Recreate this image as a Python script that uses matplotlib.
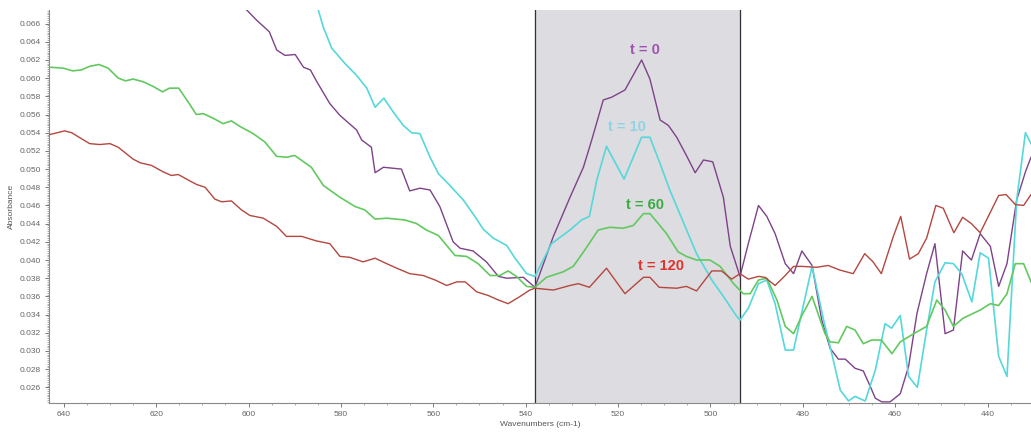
import matplotlib
matplotlib.use("Agg")
import matplotlib.pyplot as plt
import numpy as np
from matplotlib.ticker import MultipleLocator, FormatStrFormatter

plt.rcParams['font.family'] = ['Liberation Sans', 'DejaVu Sans']

# (wavenumber, absorbance)
t0_pts = [(600.4, 0.0675), (598.3, 0.0664), (595.5, 0.0651), (593.9, 0.0631), (592.1, 0.0625),
          (589.9, 0.0626), (588.1, 0.0612), (586.6, 0.0609), (585.2, 0.0596), (582.4, 0.0572),
          (580.2, 0.0559), (576.6, 0.0543), (575.5, 0.0532), (573.4, 0.0524), (572.6, 0.0496),
          (570.8, 0.0502), (566.9, 0.0500), (565.1, 0.0476), (562.9, 0.0479), (560.7, 0.0477),
          (558.6, 0.0459), (555.7, 0.0420), (554.2, 0.0413), (551.4, 0.0410), (548.5, 0.0398),
          (545.9, 0.0382), (544.1, 0.0380), (540.5, 0.0381), (538.0, 0.0370), (534.0, 0.0426),
          (530.4, 0.0469), (527.5, 0.0502), (525.7, 0.0532), (523.2, 0.0576), (521.4, 0.0579),
          (518.5, 0.0587), (514.9, 0.0620), (513.1, 0.0599), (510.9, 0.0554), (509.1, 0.0548),
          (507.3, 0.0535), (505.2, 0.0515), (503.3, 0.0496), (501.5, 0.0510), (499.5, 0.0508),
          (497.2, 0.0469), (495.7, 0.0415), (493.6, 0.0382), (491.8, 0.0418), (489.6, 0.0460),
          (487.8, 0.0448), (486.0, 0.0429), (483.8, 0.0396), (482.0, 0.0385), (480.2, 0.0410),
          (478.0, 0.0394), (475.9, 0.0334), (474.1, 0.0303), (472.3, 0.0291), (470.8, 0.0291),
          (468.7, 0.0281), (466.9, 0.0278), (465.4, 0.0261), (464.3, 0.0248), (462.9, 0.0244),
          (461.1, 0.0244), (458.9, 0.0253), (457.1, 0.0283), (455.3, 0.0341), (453.2, 0.0385),
          (451.4, 0.0418), (449.2, 0.0319), (447.4, 0.0323), (445.4, 0.0410), (443.5, 0.0400),
          (441.6, 0.0429), (439.4, 0.0415), (437.6, 0.0371), (435.8, 0.0396), (433.7, 0.0466),
          (431.8, 0.0497), (430.6, 0.0513)]

t10_pts = [(584.9, 0.0675), (583.8, 0.0656), (582.0, 0.0633), (579.1, 0.0616), (576.6, 0.0603),
           (574.4, 0.0589), (572.6, 0.0568), (570.7, 0.0578), (568.7, 0.0563), (566.5, 0.0548),
           (564.7, 0.0540), (562.9, 0.0539), (560.7, 0.0513), (558.9, 0.0495), (556.4, 0.0482),
           (553.5, 0.0466), (551.0, 0.0448), (549.2, 0.0434), (547.0, 0.0424), (544.1, 0.0416),
           (542.3, 0.0402), (539.8, 0.0385), (538.0, 0.0382), (534.4, 0.0418), (530.4, 0.0433),
           (527.9, 0.0444), (526.2, 0.0448), (524.6, 0.0488), (522.5, 0.0525), (518.7, 0.0489),
           (514.9, 0.0535), (513.1, 0.0535), (510.9, 0.0506), (508.8, 0.0477), (505.9, 0.0442),
           (503.0, 0.0407), (499.7, 0.0378), (497.2, 0.0360), (494.3, 0.0338), (493.6, 0.0334),
           (491.8, 0.0347), (489.6, 0.0374), (487.8, 0.0378), (486.0, 0.0352), (483.8, 0.0301),
           (482.0, 0.0301), (480.2, 0.0343), (478.0, 0.0393), (475.5, 0.0334), (473.4, 0.0290),
           (471.9, 0.0257), (470.1, 0.0245), (468.7, 0.0250), (466.5, 0.0245), (464.3, 0.0279),
           (462.2, 0.0330), (460.8, 0.0325), (458.9, 0.0339), (457.1, 0.0272), (455.2, 0.0260),
           (453.2, 0.0323), (451.4, 0.0376), (449.2, 0.0397), (447.4, 0.0396), (445.6, 0.0385),
           (443.4, 0.0354), (441.6, 0.0408), (439.8, 0.0402), (437.6, 0.0294), (435.8, 0.0272),
           (433.7, 0.0466), (431.8, 0.0540), (430.6, 0.0528)]

t60_pts = [(643.0, 0.0612), (640.1, 0.0611), (638.1, 0.0608), (636.2, 0.0609), (634.4, 0.0613),
           (632.4, 0.0615), (630.4, 0.0611), (628.2, 0.0600), (626.6, 0.0597), (625.0, 0.0599),
           (622.8, 0.0596), (620.7, 0.0591), (618.6, 0.0585), (617.1, 0.0589), (615.1, 0.0589),
           (613.1, 0.0574), (611.3, 0.0560), (609.8, 0.0561), (607.7, 0.0556), (605.5, 0.0550),
           (603.7, 0.0553), (601.9, 0.0547), (599.0, 0.0539), (596.5, 0.0530), (593.9, 0.0514),
           (591.8, 0.0513), (590.0, 0.0515), (586.4, 0.0502), (583.8, 0.0482), (580.2, 0.0469),
           (577.0, 0.0459), (574.8, 0.0455), (572.6, 0.0445), (570.1, 0.0446), (566.1, 0.0444),
           (563.6, 0.0440), (561.5, 0.0433), (558.9, 0.0427), (557.1, 0.0416), (555.3, 0.0405),
           (552.8, 0.0404), (550.3, 0.0396), (547.7, 0.0383), (545.6, 0.0383), (543.8, 0.0388),
           (542.0, 0.0382), (539.8, 0.0371), (538.0, 0.0370), (535.5, 0.0381), (531.9, 0.0387),
           (529.7, 0.0393), (527.2, 0.0411), (524.3, 0.0433), (521.8, 0.0436), (518.9, 0.0435),
           (516.7, 0.0438), (514.5, 0.0451), (513.1, 0.0451), (511.6, 0.0442), (509.5, 0.0429),
           (507.0, 0.0409), (505.2, 0.0404), (503.0, 0.0400), (500.1, 0.0400), (497.9, 0.0393),
           (495.0, 0.0374), (492.9, 0.0363), (491.4, 0.0363), (489.6, 0.0378), (487.8, 0.0380),
           (485.6, 0.0356), (483.8, 0.0327), (482.0, 0.0319), (480.2, 0.0339), (478.0, 0.0360),
           (475.2, 0.0319), (474.1, 0.0310), (472.3, 0.0309), (470.5, 0.0327), (468.7, 0.0323),
           (466.9, 0.0308), (465.1, 0.0312), (463.0, 0.0312), (460.7, 0.0297), (458.9, 0.0310),
           (456.0, 0.0319), (453.2, 0.0327), (451.0, 0.0356), (449.2, 0.0345), (447.4, 0.0327),
           (445.3, 0.0336), (441.6, 0.0345), (439.4, 0.0352), (437.6, 0.0350), (435.8, 0.0363),
           (434.0, 0.0396), (432.2, 0.0396), (430.6, 0.0376)]

t120_pts = [(643.0, 0.0538), (639.8, 0.0542), (638.3, 0.0540), (634.4, 0.0528), (632.2, 0.0527),
            (630.0, 0.0528), (628.2, 0.0524), (625.0, 0.0511), (623.5, 0.0507), (621.0, 0.0504),
            (618.5, 0.0497), (616.7, 0.0493), (615.2, 0.0494), (612.7, 0.0487), (611.2, 0.0483),
            (609.4, 0.0480), (607.3, 0.0467), (605.8, 0.0464), (603.7, 0.0465), (601.5, 0.0455),
            (599.7, 0.0449), (596.8, 0.0446), (593.9, 0.0437), (591.8, 0.0426), (588.5, 0.0426),
            (585.3, 0.0421), (582.4, 0.0418), (580.2, 0.0404), (578.1, 0.0403), (575.2, 0.0398),
            (572.6, 0.0402), (570.1, 0.0396), (567.9, 0.0391), (565.1, 0.0385), (562.2, 0.0383),
            (559.6, 0.0378), (557.1, 0.0372), (554.9, 0.0376), (553.1, 0.0376), (550.6, 0.0365),
            (548.1, 0.0361), (545.9, 0.0356), (543.8, 0.0352), (541.2, 0.0360), (539.1, 0.0367),
            (538.0, 0.0369), (534.0, 0.0367), (530.4, 0.0372), (528.6, 0.0374), (526.2, 0.0370),
            (522.5, 0.0391), (518.5, 0.0363), (514.5, 0.0381), (513.1, 0.0381), (511.1, 0.0370),
            (507.3, 0.0369), (505.2, 0.0371), (503.0, 0.0366), (499.7, 0.0388), (497.6, 0.0388),
            (495.4, 0.0379), (493.6, 0.0385), (491.8, 0.0379), (489.6, 0.0382), (488.2, 0.0381),
            (486.0, 0.0372), (483.8, 0.0383), (482.0, 0.0393), (480.2, 0.0393), (477.0, 0.0392),
            (474.5, 0.0394), (472.0, 0.0389), (469.1, 0.0385), (466.6, 0.0407), (464.8, 0.0398),
            (463.0, 0.0385), (460.4, 0.0426), (458.8, 0.0448), (456.9, 0.0401), (455.0, 0.0407),
            (453.2, 0.0424), (451.2, 0.0460), (449.6, 0.0457), (447.3, 0.0430), (445.4, 0.0447),
            (443.5, 0.0440), (441.6, 0.0430), (437.6, 0.0471), (436.0, 0.0472), (434.0, 0.0461),
            (432.2, 0.0460), (430.6, 0.0472)]

labels = ['t = 0', 't = 10', 't = 60', 't = 120']
line_colors = ['#7e4289', '#55d8da', '#62c960', '#b4473f']
line_widths = [1.0, 1.2, 1.2, 1.0]
label_colors = ['#a052b0', '#8ed4e4', '#38ac3e', '#e2322c']
label_pos = [(514.2, 0.0631), (518.1, 0.0546), (514.2, 0.0461), (510.8, 0.0393)]

band = (538.0, 493.5)  # shaded region

fig = plt.figure(figsize=(10.31, 4.32), dpi=100)
ax = fig.add_axes([0.0475, 0.0678, 0.9525, 0.9092])

ax.axvspan(band[1], band[0], color='#dcdce1', zorder=0)
ax.axvline(band[0], color='#333333', lw=0.9, zorder=1)
ax.axvline(band[1], color='#333333', lw=0.9, zorder=1)

for pts, c, w in zip([t0_pts, t10_pts, t60_pts, t120_pts], line_colors, line_widths):
    wn, ab = zip(*pts)
    ax.plot(wn, ab, color=c, lw=w, zorder=3)

for txt, (lx, ly), c in zip(labels, label_pos, label_colors):
    ax.text(lx, ly, txt, color=c, fontsize=10.5, fontweight='bold',
            ha='center', va='center', zorder=4)

ax.set_xlim(643.2, 430.6)
ax.set_ylim(0.02431, 0.0675)

ax.xaxis.set_major_locator(MultipleLocator(20))
ax.xaxis.set_minor_locator(MultipleLocator(5))
ax.yaxis.set_major_locator(MultipleLocator(0.002))
ax.yaxis.set_minor_locator(MultipleLocator(0.0002))
ax.yaxis.set_major_formatter(FormatStrFormatter('%.3f'))

for s in ['top', 'right']:
    ax.spines[s].set_visible(False)
for s in ['left', 'bottom']:
    ax.spines[s].set_color('#8a8a8a')
    ax.spines[s].set_linewidth(0.8)

ax.tick_params(which='major', direction='out', length=3, width=0.7, color='#777777',
               labelsize=6, labelcolor='#666666', pad=3)
ax.tick_params(which='minor', direction='out', length=1.5, width=0.6, color='#a0a0a0')

ax.set_xlabel('Wavenumbers (cm-1)', fontsize=6, color='#555555', labelpad=2)
ax.set_ylabel('Absorbance', fontsize=6, color='#555555', labelpad=3)

fig.savefig('out.png', dpi=100)
